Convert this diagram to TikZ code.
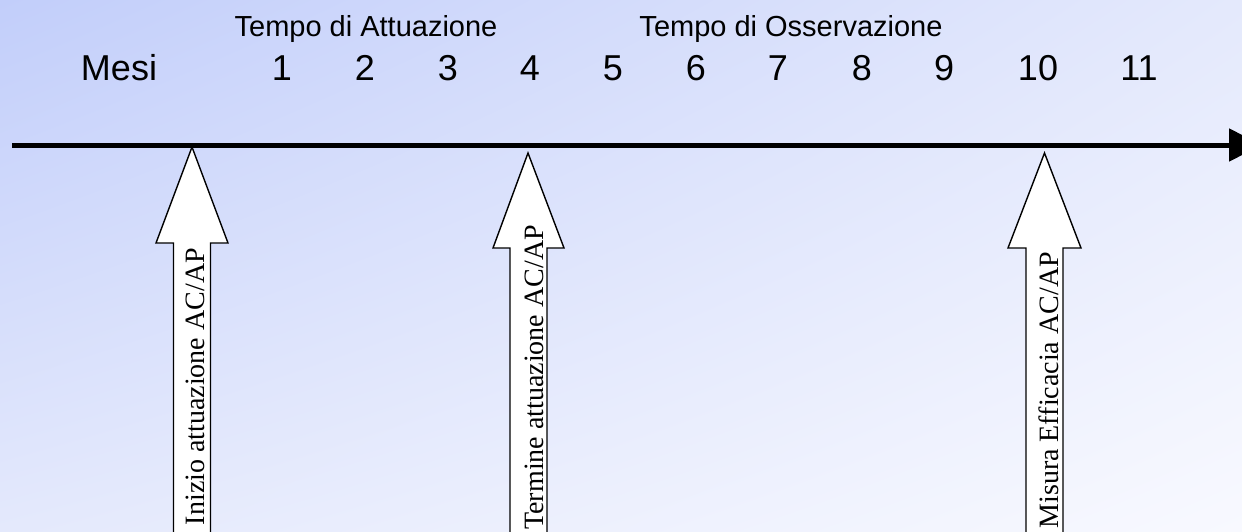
\documentclass[tikz,border=0pt]{standalone}
\usepackage{fontspec}
\setmainfont{Liberation Serif}
\newfontfamily\arialf{Liberation Sans}
\usetikzlibrary{arrows.meta,shadings}
\definecolor{bgA}{RGB}{194,206,250}
\definecolor{bgB}{RGB}{228,233,252}
\definecolor{bgC}{RGB}{248,249,255}
\tikzset{
  big/.style={font=\arialf\fontsize{36}{40}\selectfont, inner sep=0pt, anchor=base},
  head/.style={font=\arialf\fontsize{29}{32}\selectfont, inner sep=0pt, anchor=base},
  vtext/.style={font=\fontsize{28}{30}\selectfont, inner sep=0pt, rotate=90, anchor=base east},
  blockarrow/.style={draw=black, fill=white, line width=1.4pt, line join=miter},
  axis/.style={line width=5pt, -{Triangle[length=33pt,width=32pt]}}
}
\begin{document}
\begin{tikzpicture}[x=1pt,y=-1pt]
\useasboundingbox (0,0) rectangle (1242,531);
\clip (0,0) rectangle (1242,531);
\shade[upper left=bgA, upper right=bgB, lower left=bgB, lower right=bgC] (0,0) rectangle (1242,531);

% axis
\coordinate (axL) at (12,145);
\coordinate (axR) at (1262,145);
\draw[axis] (axL) -- (axR);

% header texts
\node[head] (ta) at (366,36) {Tempo di Attuazione};
\node[head] (to) at (791,36) {Tempo di Osservazione};
\node[big] (mesi) at (119,80) {Mesi};
\node[big] (m1) at (282,80) {1};
\node[big] (m2) at (365,80) {2};
\node[big] (m3) at (448,80) {3};
\node[big] (m4) at (530,80) {4};
\node[big] (m5) at (613,80) {5};
\node[big] (m6) at (696,80) {6};
\node[big] (m7) at (778,80) {7};
\node[big] (m8) at (862,80) {8};
\node[big] (m9) at (944,80) {9};
\node[big] (m10) at (1038,80) {10};
\node[big] (m11) at (1139,80) {11};

% block arrows
\draw[blockarrow] (173.5,545) -- (173.5,243) -- (156,243) -- (192,147) -- (228,243) -- (210.5,243) -- (210.5,545);
\draw[blockarrow] (510,545) -- (510,248) -- (493,248) -- (528,153) -- (564,248) -- (547,248) -- (547,545);
\draw[blockarrow] (1026,545) -- (1026,248) -- (1008,248) -- (1044.5,153) -- (1081,248) -- (1063,248) -- (1063,545);

% arrow texts
\node[vtext] (t1) at (204,248) {Inizio attuazione AC/AP};
\node[vtext] (t2) at (543,225) {Termine attuazione AC/AP};
\node[vtext] (t3) at (1058,252) {Misura Efficacia AC/AP};
\end{tikzpicture}
\end{document}
